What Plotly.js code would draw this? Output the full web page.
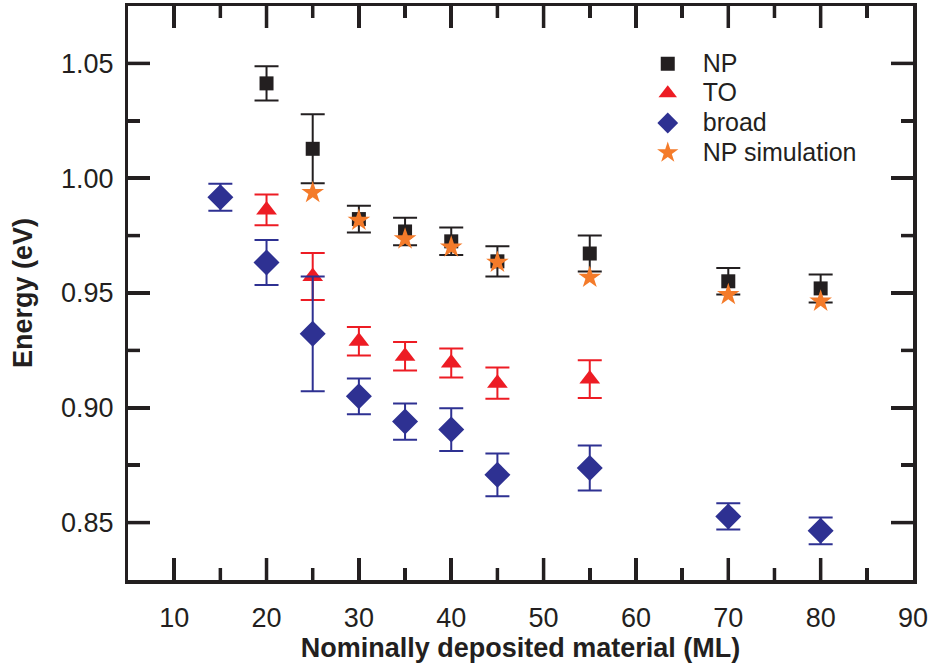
<!DOCTYPE html>
<html>
<head>
<meta charset="utf-8">
<script src="https://cdn.plot.ly/plotly-3.0.1.min.js"></script>
<style>html,body{margin:0;padding:0;background:#fff;}#chart{width:933px;height:669px;}</style>
</head>
<body>
<div id="chart"></div>
<script>
// Nominally deposited material (ML)
const npX = [20, 25, 30, 35, 40, 45, 55, 70, 80];
const npY = [1.0413, 1.0128, 0.9822, 0.9768, 0.9725, 0.9638, 0.9672, 0.9551, 0.9520];
const npErr = [0.0075, 0.0150, 0.0058, 0.0060, 0.0060, 0.0066, 0.0078, 0.0058, 0.0061];

const toX = [20, 25, 30, 35, 40, 45, 55];
const toY = [0.9862, 0.9572, 0.9290, 0.9225, 0.9195, 0.9107, 0.9125];
const toErr = [0.0067, 0.0102, 0.0062, 0.0062, 0.0063, 0.0068, 0.0082];

const broadX = [15, 20, 25, 30, 35, 40, 45, 55, 70, 80];
const broadY = [0.9917, 0.9633, 0.9322, 0.9050, 0.8940, 0.8905, 0.8708, 0.8738, 0.8527, 0.8464];
const broadErr = [0.0059, 0.0098, 0.0250, 0.0078, 0.0079, 0.0093, 0.0093, 0.0098, 0.0057, 0.0058];

const simX = [25, 30, 35, 40, 45, 55, 70, 80];
const simY = [0.9937, 0.9816, 0.9735, 0.9700, 0.9633, 0.9568, 0.9493, 0.9464];

const seriesNames = ["NP", "TO", "broad", "NP simulation"];
const xRange = [5, 90];
const yRange = [0.825, 1.075];
// tick values (interior ones; the range ends coincide with the frame)
const xMajorTicks = [10, 20, 30, 40, 50, 60, 70, 80];
const xMinorTicks = [15, 25, 35, 45, 55, 65, 75, 85];
const yMajorTicks = [0.85, 0.90, 0.95, 1.00, 1.05];
const yMinorTicks = [0.875, 0.925, 0.975, 1.025];

const cBlack = "#231f20", cRed = "#ed1c24", cBlue = "#2e3192", cOrange = "#f47b2a";
const FONT = "Liberation Sans, Arial, sans-serif";

const W = 933, H = 669, M = {l: 128, r: 20, t: 6, b: 89};
const MAJ = 22, MIN = 12, TW = 3.5;

function errBar(arr, color) {
  return {type: "data", array: arr, symmetric: true, visible: true, color: color, thickness: 2, width: 12};
}
function legName(s) { return '<span style="font-size:25px">' + s + '</span>'; }

// inside tick marks on all four sides, drawn as line segments from the tick value arrays
const xPerPx = (xRange[1] - xRange[0]) / (W - M.l - M.r);
const yPerPx = (yRange[1] - yRange[0]) / (H - M.t - M.b);
const tkX = [], tkY = [];
function addXTicks(vals, len) {
  const d = len * yPerPx;
  vals.forEach(function(v){
    tkX.push(v, v, null, v, v, null);
    tkY.push(yRange[0], yRange[0] + d, null, yRange[1], yRange[1] - d, null);
  });
}
function addYTicks(vals, len) {
  const d = len * xPerPx;
  vals.forEach(function(v){
    tkX.push(xRange[0], xRange[0] + d, null, xRange[1], xRange[1] - d, null);
    tkY.push(v, v, null, v, v, null);
  });
}
addXTicks(xMajorTicks, MAJ); addXTicks(xMinorTicks, MIN);
addYTicks(yMajorTicks, MAJ); addYTicks(yMinorTicks, MIN);

const traces = [
  {x: tkX, y: tkY, type: "scatter", mode: "lines", showlegend: false, hoverinfo: "skip",
   connectgaps: false, line: {color: cBlack, width: TW}},
  {x: npX, y: npY, name: legName(seriesNames[0]), type: "scatter", mode: "markers",
   marker: {symbol: "square", size: 14, color: cBlack, line: {width: 0}},
   error_y: errBar(npErr, cBlack)},
  {x: toX, y: toY, name: legName(seriesNames[1]), type: "scatter", mode: "markers",
   marker: {symbol: "triangle-up", size: 18, color: cRed, line: {width: 0}},
   error_y: errBar(toErr, cRed)},
  {x: broadX, y: broadY, name: legName(seriesNames[2]), type: "scatter", mode: "markers",
   marker: {symbol: "diamond", size: 20, color: cBlue, line: {width: 0}},
   error_y: errBar(broadErr, cBlue)},
  {x: simX, y: simY, name: legName(seriesNames[3]), type: "scatter", mode: "markers",
   xaxis: "x2", yaxis: "y2",
   marker: {symbol: "star", size: 17, color: cOrange, line: {width: 0}}}
];

const tickAxis = {
  showgrid: false, zeroline: false, showticklabels: false,
  showline: true, linecolor: cBlack, linewidth: 3.5, mirror: "ticks",
  ticks: "inside", ticklen: MAJ, tickwidth: TW, tickcolor: cBlack
};
const labelAxis = {
  showgrid: false, zeroline: false, showline: false,
  ticks: "outside", tickwidth: 1, tickcolor: "rgba(0,0,0,0)",
  tickfont: {family: FONT, size: 27, color: cBlack}, automargin: true
};
const titleFont = {family: FONT, size: 27, color: cBlack, weight: "bold"};

const layout = {
  width: W, height: H,
  margin: M,
  showlegend: true,
  legend: {x: 0.643, y: 0.934, xanchor: "left", yanchor: "top",
    font: {family: FONT, size: 20.5, color: cBlack}, itemwidth: 60,
    bgcolor: "rgba(0,0,0,0)", borderwidth: 0, tracegroupgap: 0, itemsizing: "trace"},
  xaxis: Object.assign({}, tickAxis, {
    range: xRange, tickmode: "array", tickvals: xMajorTicks,
    minor: {tickmode: "array", tickvals: xMinorTicks, ticks: "inside", ticklen: MIN, tickwidth: TW, tickcolor: cBlack, showgrid: false}
  }),
  yaxis: Object.assign({}, tickAxis, {
    range: yRange, tickmode: "array", tickvals: yMajorTicks,
    minor: {tickmode: "array", tickvals: yMinorTicks, ticks: "inside", ticklen: MIN, tickwidth: TW, tickcolor: cBlack, showgrid: false}
  }),
  xaxis2: Object.assign({}, labelAxis, {
    overlaying: "x", anchor: "y2", side: "bottom", ticklen: 14,
    range: xRange, tickmode: "linear", tick0: 10, dtick: 10,
    title: {text: "Nominally deposited material (ML)", standoff: 4, font: titleFont}
  }),
  yaxis2: Object.assign({}, labelAxis, {
    overlaying: "y", anchor: "x2", side: "left", ticklen: 8,
    range: yRange, tickmode: "linear", tick0: 0.85, dtick: 0.05, tickformat: ".2f",
    title: {text: "Energy (eV)", standoff: 20, font: titleFont}
  })
};

Plotly.newPlot("chart", traces, layout, {displayModeBar: false, staticPlot: true});
</script>
</body>
</html>
